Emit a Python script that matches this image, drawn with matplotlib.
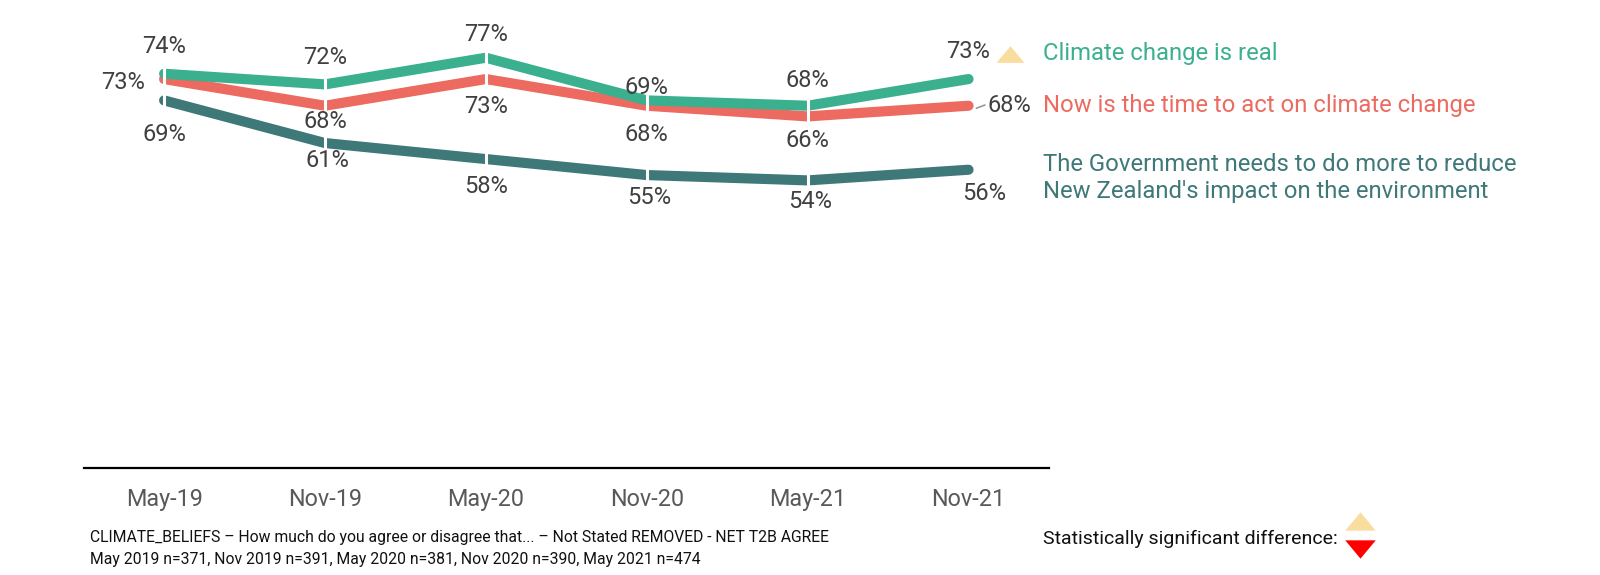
import matplotlib
matplotlib.use("Agg")
import matplotlib.pyplot as plt
from matplotlib.lines import Line2D

plt.rcParams['font.family'] = ['Roboto', 'DejaVu Sans']

categories = ["May-19", "Nov-19", "May-20", "Nov-20", "May-21", "Nov-21"]
climate_real = [74, 72, 77, 69, 68, 73]
time_to_act = [73, 68, 73, 68, 66, 68]
gov_more = [69, 61, 58, 55, 54, 56]

series_names = ["Climate change is real",
                "Now is the time to act on climate change",
                "The Government needs to do more to reduce\nNew Zealand's impact on the environment"]
colors = ["#3BB08F", "#EC6A5F", "#3F7878"]
footnote1 = "CLIMATE_BELIEFS \u2013 How much do you agree or disagree that... \u2013 Not Stated REMOVED - NET T2B AGREE"
footnote2 = "May 2019 n=371, Nov 2019 n=391, May 2020 n=381, Nov 2020 n=390, May 2021 n=474"

W, H = 1600, 575
S = 1600 / 1568.0


def fx(xd):
    return xd * S / W


def fy(yd):
    return 1 - yd * S / H


fig = plt.figure(figsize=(W / 100, H / 100), dpi=100)
ax = fig.add_axes([fx(82), fy(459), fx(1028) - fx(82), fy(20) - fy(459)])
x = list(range(len(categories)))
ax.set_xlim(-0.5, len(categories) - 0.5)
ax.set_ylim(0, 84)

for vals, c, z in [(gov_more, colors[2], 2), (time_to_act, colors[1], 3), (climate_real, colors[0], 4)]:
    ax.plot(x, vals, color=c, lw=7.3, solid_capstyle='round', solid_joinstyle='miter', zorder=z)
    ax.plot(x[:-1], vals[:-1], ls='none', marker='|', ms=13, mew=2.2, color='white', zorder=z + 0.5)

for s in ['top', 'left', 'right']:
    ax.spines[s].set_visible(False)
ax.spines['bottom'].set_color('black')
ax.spines['bottom'].set_linewidth(1.6)
ax.set_yticks([])
ax.set_xticks(x)
ax.set_xticklabels(categories, fontsize=16.8, color='#595959')
ax.tick_params(axis='x', length=0, pad=14)

lab_kw = dict(textcoords='offset pixels', fontsize=17, color='#404040', va='center', ha='center', zorder=10)


def off(dx, dy):
    return (dx * S, dy * S)


green_off = [(0, 27), (0, 26), (0, 23), (0, 13), (0, 25), (0, 27)]
for i, v in enumerate(climate_real):
    ax.annotate(f"{v}%", (x[i], v), xytext=off(*green_off[i]), **lab_kw)

red_off = [(-40, -3), (0, -15), (0, -27), (0, -28), (0, -24), (40, 0)]
for i, v in enumerate(time_to_act):
    ax.annotate(f"{v}%", (x[i], v), xytext=off(*red_off[i]), **lab_kw)

gov_off = [(0, -33), (2, -17), (0, -27), (2, -22), (2, -21), (15, -23)]
for i, v in enumerate(gov_more):
    ax.annotate(f"{v}%", (x[i], v), xytext=off(*gov_off[i]), **lab_kw)

tri_up = [(-1, -0.6), (1, -0.6), (0, 0.6)]
tri_dn = [(-1, 0.6), (1, 0.6), (0, -0.6)]

# significance triangle next to last green label
fig.add_artist(Line2D([fx(990)], [fy(52.5)], marker=tri_up, ms=20, color='#F8DD9E', mew=0))

# leader line for last red label
fig.add_artist(Line2D([fx(957), fx(965)], [fy(106), fy(103)], color='#999999', lw=1.2))

# series labels on the right
fig.text(fx(1022), fy(52), series_names[0], color=colors[0], fontsize=17.2, va='center', ha='left')
fig.text(fx(1022), fy(103), series_names[1], color=colors[1], fontsize=17.2, va='center', ha='left')
fig.text(fx(1022), fy(174.5), series_names[2], color=colors[2], fontsize=17.2, va='center', ha='left',
         linespacing=1.25)

# footnotes
fig.text(fx(88), fy(527), footnote1, fontsize=11.3, color='#111111', va='center', ha='left')
fig.text(fx(88), fy(548), footnote2, fontsize=11.3, color='#111111', va='center', ha='left')

fig.text(fx(1022), fy(528), "Statistically significant difference:", fontsize=14, color='#111111',
         va='center', ha='left')
fig.add_artist(Line2D([fx(1333)], [fy(511)], marker=tri_up, ms=22, color='#F8DD9E', mew=0))
fig.add_artist(Line2D([fx(1333)], [fy(538)], marker=tri_dn, ms=22, color='#FF0000', mew=0))

fig.savefig("out.png", dpi=100, facecolor='white')
